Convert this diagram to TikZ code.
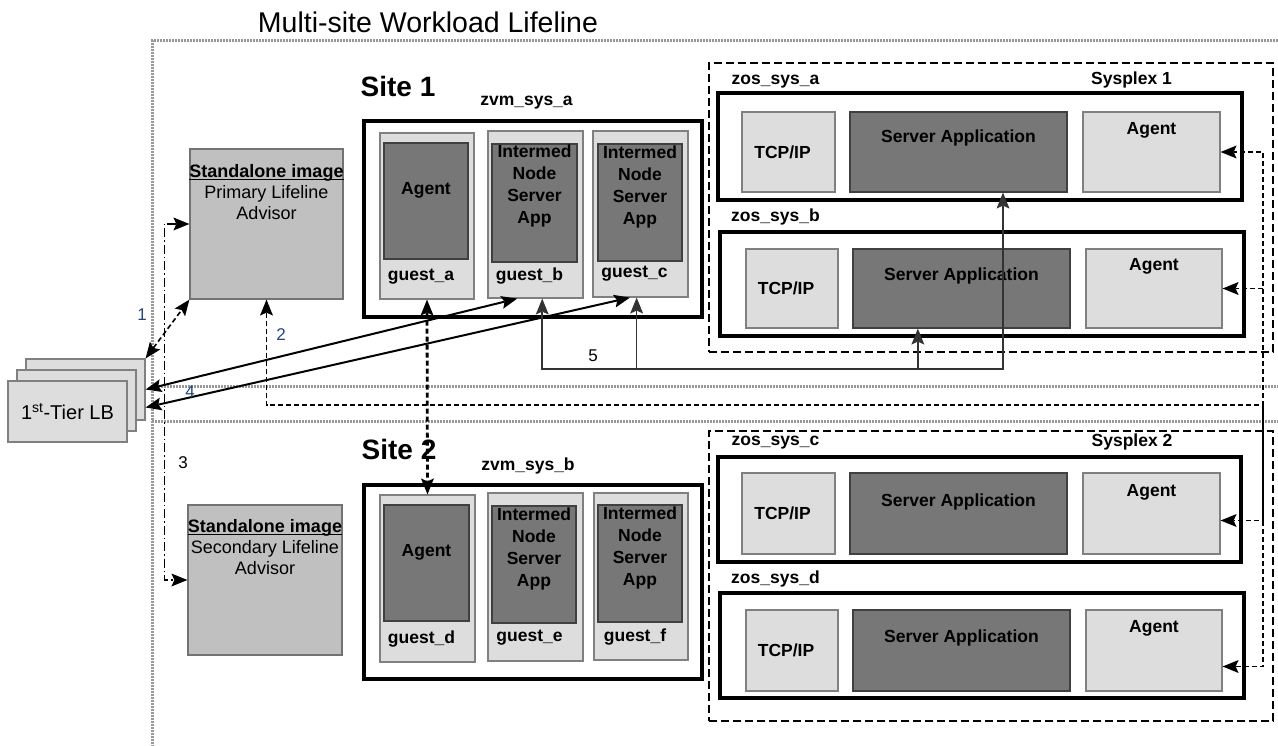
\documentclass[tikz,border=0pt]{standalone}
\usepackage{fontspec}
\setmainfont{Liberation Sans}
\usetikzlibrary{arrows.meta,calc}
\definecolor{litegray}{HTML}{DDDDDD}
\definecolor{deepgray}{HTML}{777777}
\definecolor{advgray}{HTML}{C0C0C0}
\definecolor{zonegray}{HTML}{999999}
\definecolor{numblue}{HTML}{24467A}

\begin{document}
\begin{tikzpicture}[x = 1pt, y = -1pt,
	lite/.style = {draw = black!50, fill = litegray, line width = 1.2, inner sep = 0},
	deep/.style = {draw = black!75, fill = deepgray, line width = 1.2, inner sep = 0},
	host/.style = {draw, line width = 4, fill = white, inner sep = 0},
	plex/.style = {draw, line width = 1.6, dash pattern = on 8pt off 4pt, inner sep = 0},
	adv/.style = {draw = black!55, fill = advgray, line width = 1.2, inner sep = 0},
	txt/.style = {font = \fontsize{17.5}{22}\selectfont\bfseries, inner sep = 0, align = center},
	advtxt/.style = {font = \fontsize{18}{21}\selectfont, inner sep = 0, align = center},
	num/.style = {font = \fontsize{17}{20}\selectfont, inner sep = 0},
	zone/.style = {draw = zonegray, line width = 3, dash pattern = on 2pt off 1pt},
	probe/.style = {line width = 1.6, dash pattern = on 5pt off 3pt},
	back/.style = {line width = 1.4, dash pattern = on 5pt off 3pt},
	mixed/.style = {line width = 1.2, dash pattern = on 9pt off 3pt on 1.5pt off 3pt},
	pair/.style = {line width = 2.8, dash pattern = on 5pt off 3pt},
	link/.style = {line width = 2},
	feed/.style = {line width = 1.6, draw = black!80},
	tip/.tip = {Stealth[length = 16pt, width = 13pt, inset = 3pt, line width = 0pt]}]%lifeline
	\useasboundingbox (0,0) rectangle (1278,746);
	\draw[zone] (1278,41) -- (152,41) -- (152,746);
	\draw[zone] (152,386) -- (1278,386);
	\draw[zone] (152,421) -- (1278,421);
	\node[font = \fontsize{28.5}{34}\selectfont, inner sep = 0] (title) at (428,22) {Multi-site Workload Lifeline};

	\node[lite, minimum width = 119, minimum height = 61] (lb3) at (85.5,389.5) {};
	\node[lite, minimum width = 119, minimum height = 61] (lb2) at (76.5,400.5) {};
	\node[lite, minimum width = 119, minimum height = 61, font = \fontsize{20}{24}\selectfont] (lb1) at (67.5,411.5) {1\textsuperscript{st}-Tier LB};

	\node[adv, minimum width = 153, minimum height = 150, label = {[advtxt, yshift = 25]center:{\textbf{\underline{\smash{Standalone image}}}\\Primary Lifeline\\Advisor}}] (sa1) at (266.5,224) {};
	\node[adv, minimum width = 154, minimum height = 150, label = {[advtxt, yshift = 26]center:{\textbf{\underline{\smash{Standalone image}}}\\Secondary Lifeline\\Advisor}}] (sa2) at (265,580) {};

	\node[font = \fontsize{28}{34}\selectfont\bfseries, inner sep = 0] (site1) at (398,86) {Site 1};
	\node[txt] (vmalbl) at (526.5,103) {zvm\_sys\_a};
	\node[host, minimum width = 338, minimum height = 196] (vma) at (533,219) {};
	\node[lite, minimum width = 94, minimum height = 166, label = {[txt, xshift = -6, yshift = -61]center:guest\_a}] (ga) at (427,216) {};
	\node[deep, minimum width = 84, minimum height = 116, label = {[txt, yshift = 11]center:Agent}] (gai) at (426,201) {};
	\node[lite, minimum width = 95, minimum height = 167, label = {[txt, xshift = -6, yshift = -61.5]center:guest\_b}] (gb) at (535.5,214.5) {};
	\node[deep, minimum width = 85, minimum height = 118, label = {[txt, yshift = 17]center:{Intermed\\Node\\Server\\App}}] (gbi) at (534.5,203) {};
	\node[lite, minimum width = 95, minimum height = 166, label = {[txt, xshift = -6, yshift = -60]center:guest\_c}] (gc) at (640.5,214) {};
	\node[deep, minimum width = 84, minimum height = 117, label = {[txt, yshift = 16]center:{Intermed\\Node\\Server\\App}}] (gci) at (640,202.5) {};

	\node[font = \fontsize{28}{34}\selectfont\bfseries, inner sep = 0] (site2) at (399,449) {Site 2};
	\node[txt] (vmblbl) at (528,466) {zvm\_sys\_b};
	\node[host, minimum width = 338, minimum height = 194] (vmb) at (533,582) {};
	\node[lite, minimum width = 95, minimum height = 167, label = {[txt, xshift = -6, yshift = -60.5]center:guest\_d}] (gd) at (427.5,578.5) {};
	\node[deep, minimum width = 85, minimum height = 116, label = {[txt, yshift = 11]center:Agent}] (gdi) at (426.5,563) {};
	\node[lite, minimum width = 95, minimum height = 168, label = {[txt, xshift = -6, yshift = -61]center:guest\_e}] (ge) at (535.5,577) {};
	\node[deep, minimum width = 84, minimum height = 117, label = {[txt, yshift = 16]center:{Intermed\\Node\\Server\\App}}] (gei) at (534,564.5) {};
	\node[lite, minimum width = 94, minimum height = 167, label = {[txt, xshift = -6, yshift = -60.5]center:guest\_f}] (gf) at (641,576.5) {};
	\node[deep, minimum width = 84, minimum height = 117, label = {[txt, yshift = 16]center:{Intermed\\Node\\Server\\App}}] (gfi) at (640,563.5) {};

	\node[plex, minimum width = 564, minimum height = 289] (sp1) at (991,207.5) {};
	\node[txt] (sp1lbl) at (1131.5,80) {Sysplex 1};
	\node[txt] (zsalbl) at (775.5,82) {zos\_sys\_a};
	\node[host, minimum width = 524, minimum height = 107] (zsa) at (980,146.5) {};
	\node[lite, minimum width = 93, minimum height = 80, label = {[txt, xshift = -6]center:TCP/IP}] (tcpa) at (788.5,152) {};
	\node[deep, minimum width = 217, minimum height = 80, label = {[txt, yshift = 14]center:Server Application}] (sva) at (958.5,152) {};
	\node[lite, minimum width = 137, minimum height = 80, label = {[txt, yshift = 22]center:Agent}] (aga) at (1151.5,152) {};
	\node[txt] (zsblbl) at (775.5,217) {zos\_sys\_b};
	\node[host, minimum width = 524, minimum height = 104] (zsb) at (982,284) {};
	\node[lite, minimum width = 92, minimum height = 79, label = {[txt, xshift = -6]center:TCP/IP}] (tcpb) at (792,288.5) {};
	\node[deep, minimum width = 217, minimum height = 79, label = {[txt, yshift = 13]center:Server Application}] (svb) at (961.5,288.5) {};
	\node[lite, minimum width = 136, minimum height = 79, label = {[txt, yshift = 22]center:Agent}] (agb) at (1154,288.5) {};

	\node[plex, minimum width = 564, minimum height = 290] (sp2) at (991,576) {};
	\node[txt] (sp2lbl) at (1132,442) {Sysplex 2};
	\node[txt] (zsclbl) at (775.5,443) {zos\_sys\_c};
	\node[host, minimum width = 523, minimum height = 105] (zsc) at (979.5,509.5) {};
	\node[lite, minimum width = 93, minimum height = 81, label = {[txt, xshift = -6]center:TCP/IP}] (tcpc) at (788.5,513.5) {};
	\node[deep, minimum width = 217, minimum height = 81, label = {[txt, yshift = 12]center:Server Application}] (svc) at (958.5,513.5) {};
	\node[lite, minimum width = 137, minimum height = 81, label = {[txt, yshift = 21]center:Agent}] (agc) at (1151.5,513.5) {};
	\node[txt] (zsdlbl) at (775.5,579) {zos\_sys\_d};
	\node[host, minimum width = 524, minimum height = 105] (zsd) at (982,645.5) {};
	\node[lite, minimum width = 92, minimum height = 81, label = {[txt, xshift = -6]center:TCP/IP}] (tcpd) at (792,650.5) {};
	\node[deep, minimum width = 217, minimum height = 81, label = {[txt, yshift = 13]center:Server Application}] (svd) at (961.5,650.5) {};
	\node[lite, minimum width = 136, minimum height = 81, label = {[txt, yshift = 22]center:Agent}] (agd) at (1154,650.5) {};

	\draw[probe, tip-tip] (lb3.north east) -- (sa1.south west);
	\node[num, text = numblue] (n1) at (142,315) {1};
	\coordinate (r2) at (1263,405);
	\draw[back, tip-tip] (sa1.south) |- (r2) |- (aga.east);
	\draw[back, -tip] (r2 |- agb.east) -- (agb.east);
	\draw[back, -tip] (r2) |- ($(agc.east)+(0,7)$);
	\draw[back, tip-] ($(agd.east)+(0,16)$) -| (r2);
	\node[num, text = numblue] (n2) at (281,335) {2};
	\draw[mixed, tip-tip] (sa1.west) -- ++(-25,0) coordinate (t3) -- (t3 |- sa2.west) -- (sa2.west);
	\node[num] (n3) at (183,463) {3};
	\draw[link, tip-tip] (lb3.east) -- ($(gb.south west)!.31!(gb.south east)$);
	\draw[link, tip-tip] ($(lb3.east)+(0,18)$) -- ($(gc.south west)!.39!(gc.south east)$);
	\node[num, text = numblue] (n4) at (190,392) {4};
	\coordinate (j5) at (1003,369);
	\draw[feed, tip-tip] ($(gb.south west)!.57!(gb.south east)$) |- (j5) -- (j5 |- sva.south);
	\draw[feed, tip-] ($(gc.south west)!.46!(gc.south east)$) coordinate (p5c) -- (p5c |- j5);
	\draw[feed, -tip] ($(svb.south west)!.3!(svb.south east)$) coordinate (p5d) ++(0,0) (p5d |- j5) -- (p5d);
	\node[num] (n5) at (593,356) {5};
	\draw[pair, tip-tip] (ga.south) -- (gd.north);
\end{tikzpicture}
\end{document}
